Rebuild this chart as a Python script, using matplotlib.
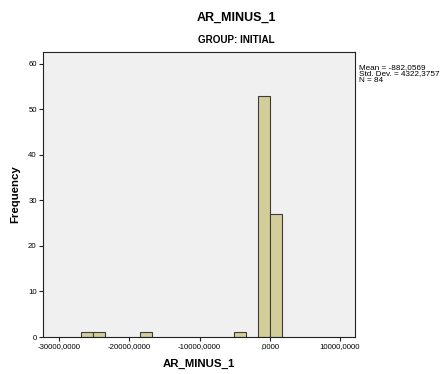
import matplotlib
matplotlib.use("Agg")
import matplotlib.pyplot as plt
from matplotlib.ticker import FuncFormatter

# Data
bin_width = 1680.0
bin_left_edges = [-26880, -25200, -18480, -5040, -1680, 0]
counts = [1, 1, 1, 1, 53, 27]

x_ticks = [-30000, -20000, -10000, 0, 10000]
y_ticks = [0, 10, 20, 30, 40, 50, 60]
stats_lines = ["Mean = -882,0569", "Std. Dev. = 4322,3757", "N = 84"]

plt.rcParams['font.family'] = ['Liberation Sans', 'DejaVu Sans']

fig = plt.figure(figsize=(4.46, 3.74), dpi=100)
ax = fig.add_axes([43/446, 1-337/374, (355-43)/446, (337-52)/374])
ax.set_facecolor('#F0F0F0')

ax.bar(bin_left_edges, counts, width=bin_width, align='edge',
       color='#D3CE99', edgecolor='#3C3C3C', linewidth=0.8)

ax.set_xlim(-32290, 12140)
ax.set_ylim(0, 62.6)
ax.set_xticks(x_ticks)
ax.set_yticks(y_ticks)

def fmt(v, pos):
    if v == 0:
        return ',0000'
    return ('%.4f' % v).replace('.', ',')

ax.xaxis.set_major_formatter(FuncFormatter(fmt))
ax.tick_params(axis='both', labelsize=5.6, length=3, width=0.8, color='#222222', pad=1.5)
for s in ax.spines.values():
    s.set_color('#222222')
    s.set_linewidth(0.8)

ax.set_xlabel('AR_MINUS_1', fontsize=8.2, fontweight='bold', labelpad=6)
ax.set_ylabel('Frequency', fontsize=8.2, fontweight='bold', labelpad=6)

fig.text(236/446, 1-18/374, 'AR_MINUS_1', fontsize=9, fontweight='bold', ha='center', va='center')
fig.text(236/446, 1-40/374, 'GROUP: INITIAL', fontsize=7.1, fontweight='bold', ha='center', va='center')

fig.text(359/446, 1-64/374, "\n".join(stats_lines), fontsize=5.9, ha='left', va='top', linespacing=0.9)

fig.savefig('out.png', dpi=100, facecolor='white')
